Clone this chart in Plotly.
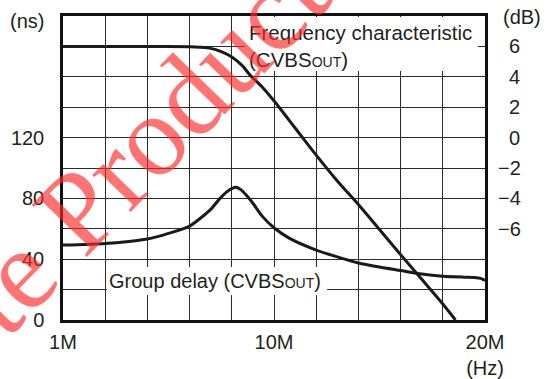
import plotly.graph_objects as go

# x positions are in grid-column units (10 equal columns): 1M at 0, 10M at 5, 20M at 10
x_tick_pos = [0, 5, 10]
x_tick_text = ["1M", "10M", "20M<br>(Hz)"]

# Group delay (ns), left axis
gd_x = [0, 1, 1.5, 2, 2.5, 3, 3.5, 3.72, 3.88, 4.01, 4.1, 4.22, 4.34, 4.5, 4.73, 5, 5.37, 6, 6.5, 7, 7.5, 8, 8.5, 9, 9.5, 9.75, 9.9, 10]
gd_y = [49.3, 50.4, 51.5, 53.3, 57.0, 61.8, 72.8, 80, 84.3, 86.6, 87.3, 85.6, 82.2, 76.8, 68, 60.7, 53.7, 46, 41.5, 37.5, 34.8, 32.5, 30.2, 28.8, 28.2, 28.0, 27.4, 26]

# Frequency characteristic (dB), right axis
fr_x = [0, 1, 2, 3, 3.24, 3.5, 3.75, 4, 4.26, 4.43, 4.73, 5, 5.37, 5.76, 6, 6.5, 7, 8, 9, 9.3]
fr_y = [6, 6, 6, 5.97, 5.94, 5.87, 5.65, 5.3, 4.7, 4.12, 3.3, 2.42, 1.1, -0.3, -1.15, -2.85, -4.4, -7.7, -10.95, -12]

ns_ticks = [0, 20, 40, 60, 80, 100, 120, 140, 160, 180, 200]
ns_labels = ["0", "", "40", "", "80", "", "120", "", "", "", ""]
ns_marks = [0, 40, 80, 120]
db_ticks = [-6, -4, -2, 0, 2, 4, 6]
db_labels = ["\u22126", "\u22124", "\u22122", "\u20070", "\u20072", "\u20074", "\u20076"]

FONT = "Liberation Sans, Arial, sans-serif"
LINE = "#1a1a1a"
GRID = "#2a2a2a"
TXT = "#231f20"

fig = go.Figure()
fig.add_trace(go.Scatter(x=gd_x, y=gd_y, mode="lines", line=dict(color=LINE, width=3, shape="spline", smoothing=0.7),
                         yaxis="y", showlegend=False, hoverinfo="skip"))
fig.add_trace(go.Scatter(x=fr_x, y=fr_y, mode="lines", line=dict(color=LINE, width=3, shape="spline", smoothing=0.7),
                         yaxis="y2", showlegend=False, hoverinfo="skip"))
fig.add_trace(go.Scatter(x=[-0.09] * len(ns_marks), y=ns_marks, mode="markers",
                         marker=dict(symbol="triangle-right", size=6, color="#111"),
                         cliponaxis=False, showlegend=False, hoverinfo="skip"))

W, H = 550, 379
L, R, T, B = 63, 65, 16, 59

def px(xp):
    return (xp - L) / (W - L - R)

def py(yp):
    return (H - B - yp) / (H - T - B)

fig.update_layout(
    width=W, height=H,
    margin=dict(l=L, r=R, t=T, b=B, autoexpand=False),
    paper_bgcolor="white", plot_bgcolor="white",
    font=dict(family=FONT, size=20, color=TXT),
    xaxis=dict(range=[0, 10], tickmode="array", tickvals=list(range(11)),
               ticktext=[x_tick_text[x_tick_pos.index(i)] if i in x_tick_pos else "" for i in range(11)],
               showgrid=True, gridcolor=GRID, gridwidth=1.4, zeroline=False, automargin=False,
               showline=True, linecolor="#111", linewidth=2.5, mirror=True, ticks="", ticklabelstandoff=2),
    yaxis=dict(range=[0, 200], tickmode="array", tickvals=ns_ticks, ticktext=ns_labels, automargin=False,
               showgrid=True, gridcolor=GRID, gridwidth=1.4, zeroline=False,
               showline=True, linecolor="#111", linewidth=2.5, mirror=True, ticks="", ticklabelstandoff=12),
    yaxis2=dict(range=[-12, 8], overlaying="y", side="right", tickmode="array", tickvals=db_ticks,
                ticktext=db_labels, showgrid=False, zeroline=False, showline=False, ticks="",
                automargin=False, ticklabelstandoff=12),
)

# white masks behind the in-plot labels (hide gridlines, keep curves) - in x / y (ns) units
fig.add_shape(type="rect", xref="x", yref="y", x0=4.31, x1=9.83, y0=163.8, y1=199.3,
              fillcolor="white", line=dict(width=0), layer="between")
fig.add_shape(type="rect", xref="x", yref="y", x0=1.04, x1=6.26, y0=16.4, y1=34.9,
              fillcolor="white", line=dict(width=0), layer="between")

fig.add_annotation(text="Frequency characteristic<br>(CVBS<span style='font-size:14px'>OUT</span>)",
                   xref="paper", yref="paper", x=px(247), y=py(19), xanchor="left", yanchor="top",
                   align="left", showarrow=False, font=dict(size=20.5, color=TXT))
fig.add_annotation(text="Group delay (CVBS<span style='font-size:14px'>OUT</span>)",
                   xref="paper", yref="paper", x=px(107), y=py(281), xanchor="left", yanchor="middle",
                   showarrow=False, font=dict(size=20, color=TXT))
fig.add_annotation(text="(ns)", xref="paper", yref="paper", x=px(27), y=py(21), xanchor="center", yanchor="middle",
                   showarrow=False, font=dict(size=20, color=TXT))
fig.add_annotation(text="(dB)", xref="paper", yref="paper", x=px(522), y=py(17), xanchor="center", yanchor="middle",
                   showarrow=False, font=dict(size=20, color=TXT))

# watermark
fig.add_annotation(text="Obsolete Product", xref="paper", yref="paper", x=px(28), y=py(262),
                   xanchor="center", yanchor="middle", textangle=-46, showarrow=False,
                   font=dict(family="Liberation Serif, Times New Roman, serif", size=116, color="rgba(255,40,40,0.65)"))

fig.write_html("out.html", post_script="document.body.style.margin='0px';",
               config={"displayModeBar": False})
